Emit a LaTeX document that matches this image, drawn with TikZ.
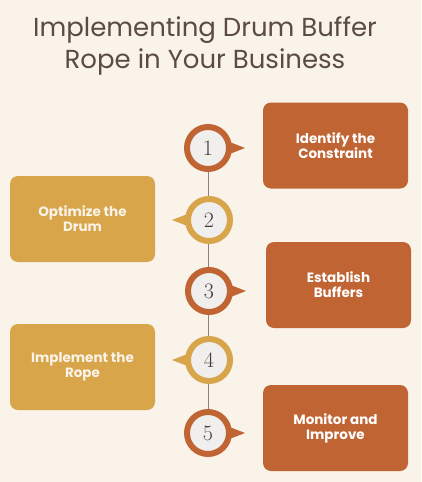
\documentclass[tikz,border=0pt]{standalone}
\usepackage{fontspec}
\setmainfont{Poppins}
\newfontfamily\numfont{Latin Modern Roman}
\usepackage{tikz}
\usetikzlibrary{positioning, calc}
\pgfdeclarelayer{bg}
\pgfsetlayers{bg,main}
\definecolor{cream}{HTML}{FAF3EA}
\definecolor{rust}{HTML}{C06433}
\definecolor{gold}{HTML}{D8A54B}
\definecolor{titlegray}{HTML}{5A4B44}
\definecolor{discfill}{HTML}{F1EFEE}
\tikzset{
  stepbox/.style={rounded corners=8pt, minimum width=145pt, minimum height=86pt,
    align=center, font=\fontsize{13.5}{15}\selectfont\bfseries},
  rustbox/.style={stepbox, fill=rust, text=white},
  goldbox/.style={stepbox, fill=gold, text=cream},
  disc/.style={circle, minimum size=42pt, inner sep=0pt, line width=6pt,
    fill=discfill, text=titlegray!80!black, font=\numfont\fontsize{22}{22}\selectfont}
}
\begin{document}
\begin{tikzpicture}[x=1pt, y=-1pt]
    \useasboundingbox (0,0) rectangle (421,482);

    \node [text=titlegray, align=center, font=\fontsize{26}{32}\selectfont] (title) at (205,46)
        {Implementing Drum Buffer\\Rope in Your Business};

    \node [disc, draw=rust] (c1) at (208,148) {1};
    \node [disc, draw=gold] (c2) at (209,220) {2};
    \node [disc, draw=rust] (c3) at (209,291) {3};
    \node [disc, draw=gold] (c4) at (209,360) {4};
    \node [disc, draw=rust] (c5) at (208,433) {5};

    \node [rustbox] (b1) at (335.5,145.5) { Identify the\\Constraint };
    \node [goldbox] (b2) at (82.5,219) { Optimize the\\Drum };
    \node [rustbox] (b3) at (338.5,285) { Establish\\Buffers };
    \node [goldbox] (b4) at (82.5,367) { Implement the\\Rope };
    \node [rustbox] (b5) at (335.5,428) { Monitor and\\Improve };

    \begin{pgfonlayer}{bg}    % page, line and pointers behind the discs
        \fill [cream] (0,0) rectangle (421,482);
        \draw [titlegray!70, line width=0.6pt] (c1) -- (c5);
        \fill [rust] ($(c1.east)+(-5,-7)$) -- ($(c1.east)+(13,0)$) -- ($(c1.east)+(-5,7)$) -- cycle;
        \fill [gold] ($(c2.west)+(5,-7)$) -- ($(c2.west)+(-13,0)$) -- ($(c2.west)+(5,7)$) -- cycle;
        \fill [rust] ($(c3.east)+(-5,-7)$) -- ($(c3.east)+(13,0)$) -- ($(c3.east)+(-5,7)$) -- cycle;
        \fill [gold] ($(c4.west)+(5,-7)$) -- ($(c4.west)+(-13,0)$) -- ($(c4.west)+(5,7)$) -- cycle;
        \fill [rust] ($(c5.east)+(-5,-7)$) -- ($(c5.east)+(13,0)$) -- ($(c5.east)+(-5,7)$) -- cycle;
    \end{pgfonlayer}
\end{tikzpicture}
\end{document}
